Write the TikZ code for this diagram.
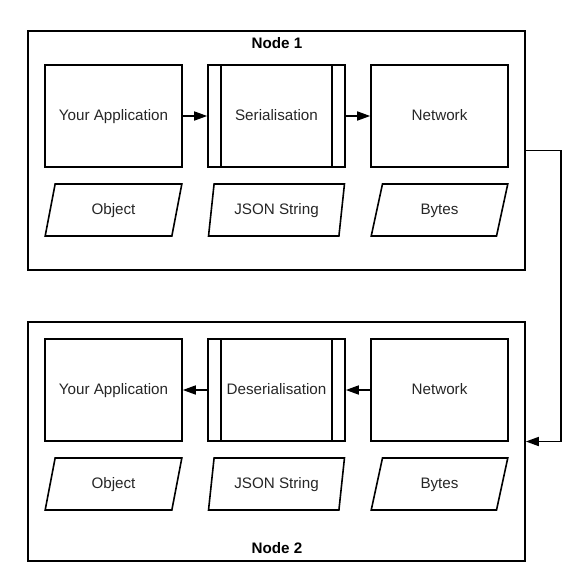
\documentclass[tikz,border=0pt]{standalone}
\usepackage{fontspec}
\setmainfont{Liberation Sans}
\usetikzlibrary{shapes.geometric,arrows.meta}
\begin{document}
\begin{tikzpicture}[x=1pt,y=-1pt,
  line width=1.6pt,
  every node/.style={font=\fontsize{15.2pt}{18pt}\selectfont, inner sep=0pt,
    text height=11pt, text depth=3pt, text=black!85},
  outerbox/.style={draw=black, rectangle, minimum width=497pt, minimum height=239pt},
  procbox/.style={draw=black, rectangle, minimum width=137pt, minimum height=102pt},
  para/.style={draw=black, trapezium, trapezium left angle=75, trapezium right angle=105,
    trapezium stretches=true, minimum width=137pt, minimum height=52pt},
  title/.style={font=\bfseries\fontsize{15.2pt}{18pt}\selectfont, text=black},
  flow/.style={-{Triangle[length=13pt,width=9pt]}}
]
\useasboundingbox (0,0) rectangle (588,587);
% outer boxes
\node[outerbox] (box1) at (276.5,150.5) {};
\node[outerbox] (box2) at (276.5,441.5) {};
\node[title] (t1) at (277,44) {Node 1};
\node[title] (t2) at (277,549) {Node 2};
% top row
\node[procbox] (app1) at (113.5,116) {Your Application};
\node[procbox] (ser) at (276.5,116) {Serialisation};
\node[procbox] (net1) at (439.5,116) {Network};
\draw ([xshift=14pt]ser.north west) -- ([xshift=14pt]ser.south west);
\draw ([xshift=-14pt]ser.north east) -- ([xshift=-14pt]ser.south east);
\node[para] (obj1) at (113.5,210) {Object};
\node[para] (json1) at (276.5,210) {JSON String};
\node[para] (bytes1) at (439.5,210) {Bytes};
% bottom row
\node[procbox] (app2) at (113.5,390) {Your Application};
\node[procbox] (deser) at (276.5,390) {Deserialisation};
\node[procbox] (net2) at (439.5,390) {Network};
\draw ([xshift=14pt]deser.north west) -- ([xshift=14pt]deser.south west);
\draw ([xshift=-14pt]deser.north east) -- ([xshift=-14pt]deser.south east);
\node[para] (obj2) at (113.5,484) {Object};
\node[para] (json2) at (276.5,484) {JSON String};
\node[para] (bytes2) at (439.5,484) {Bytes};
% connectors
\draw[flow] (app1) -- (ser);
\draw[flow] (ser) -- (net1);
\draw[flow] (net2) -- (deser);
\draw[flow] (deser) -- (app2);
\draw[flow] (box1.east) -- ++(35,0) |- (box2.east);
\end{tikzpicture}
\end{document}
